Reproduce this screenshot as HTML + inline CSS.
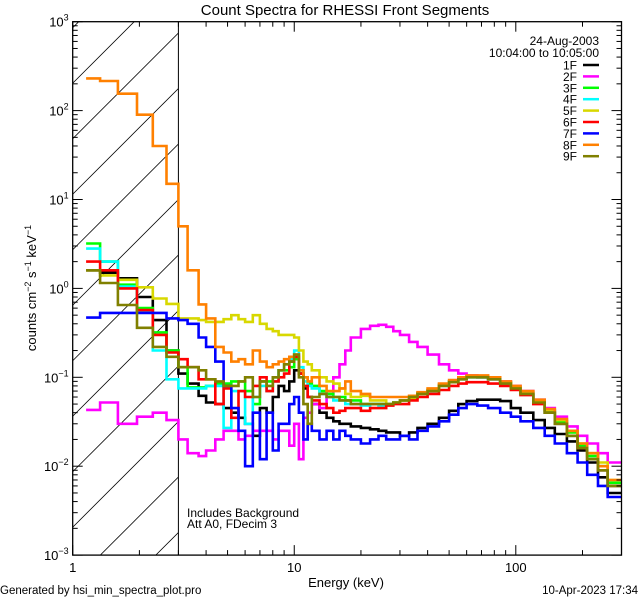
<!DOCTYPE html>
<html><head><meta charset="utf-8"><style>
html,body{margin:0;padding:0;background:#fff;width:640px;height:600px;overflow:hidden;}
svg{display:block;font-family:"Liberation Sans",sans-serif;}
</style></head><body>
<svg id="chart" width="640" height="600" viewBox="0 0 640 600" xmlns="http://www.w3.org/2000/svg">
<rect x="0" y="0" width="640" height="600" fill="#fff"/>
<defs><clipPath id="plotclip"><rect x="72.7" y="21.7" width="548.8" height="533.4"/></clipPath>
<clipPath id="hatchclip"><rect x="72.7" y="21.7" width="105.7" height="533.4"/></clipPath></defs>
<g id="hatch" clip-path="url(#hatchclip)"></g>
<line x1="178.4" y1="21.7" x2="178.4" y2="555.1" stroke="#000" stroke-width="1"/>
<g id="series" clip-path="url(#plotclip)"></g>
<rect x="72.7" y="21.7" width="548.8" height="533.4" fill="none" stroke="#000" stroke-width="1.3"/>
<g id="axes"></g>
<text x="345" y="15" font-size="15" text-anchor="middle">Count Spectra for RHESSI Front Segments</text>
<text x="346" y="587" font-size="13" text-anchor="middle">Energy (keV)</text>
<text transform="translate(36,288) rotate(-90)" font-size="13" text-anchor="middle">counts cm<tspan dy="-5" font-size="9">−2</tspan><tspan dy="5"> s</tspan><tspan dy="-5" font-size="9">−1</tspan><tspan dy="5"> keV</tspan><tspan dy="-5" font-size="9">−1</tspan></text>
<text x="599" y="45" font-size="12" text-anchor="end">24-Aug-2003</text>
<text x="599" y="57" font-size="12" text-anchor="end">10:04:00 to 10:05:00</text>
<text x="187" y="517" font-size="12">Includes Background</text>
<text x="187" y="528" font-size="12">Att A0, FDecim 3</text>
<text x="0" y="594" font-size="11.5">Generated by hsi_min_spectra_plot.pro</text>
<text x="638" y="594" font-size="11.5" text-anchor="end">10-Apr-2023 17:34</text>
<g id="legend"></g>
</svg>
<script>
const edges=[1.15,1.33,1.6,1.95,2.3,2.65,3.0,3.3,3.7,4.0,4.4,4.8,5.2,5.6,6.0,6.5,7.0,7.5,8.0,8.5,9.0,9.5,10.0,10.5,11.0,11.5,12,13,14,15,16,17,18,20,22,24,26,28,30,33,36,40,45,50,55,60,67,75,85,95,105,120,135,150,170,190,210,235,260,300];
const names=["1F","2F","3F","4F","5F","6F","7F","8F","9F"];
const colors=["#000000","#ff00ff","#00ff00","#00ffff","#d8d800","#ff0000","#0000ff","#ff8000","#808000"];
const s1F=[1.6,1.5,1.3,0.8,0.44,0.2,0.11,0.085,0.062,0.052,0.05,0.045,0.04,0.035,0.03,0.022,0.045,0.04,0.06,0.08,0.07,0.09,0.12,0.11,0.075,0.06,0.05,0.04,0.035,0.032,0.03,0.03,0.028,0.027,0.026,0.025,0.024,0.024,0.022,0.024,0.027,0.03,0.035,0.042,0.05,0.054,0.056,0.056,0.054,0.045,0.04,0.033,0.027,0.023,0.019,0.015,0.011,0.0075,0.005];
const s2F=[0.043,0.052,0.03,0.036,0.04,0.033,0.02,0.014,0.013,0.015,0.02,0.025,0.025,0.02,0.022,0.025,0.025,0.025,0.02,0.025,0.025,0.017,0.03,0.012,0.035,0.04,0.05,0.045,0.06,0.1,0.14,0.2,0.28,0.35,0.38,0.39,0.37,0.33,0.3,0.25,0.22,0.18,0.14,0.12,0.11,0.105,0.1,0.095,0.09,0.08,0.07,0.056,0.045,0.036,0.028,0.022,0.018,0.014,0.011];
const s3F=[3.2,2.0,1.1,0.6,0.32,0.2,0.13,0.077,0.077,0.08,0.085,0.085,0.09,0.09,0.07,0.05,0.09,0.09,0.1,0.12,0.12,0.13,0.16,0.12,0.1,0.085,0.08,0.07,0.065,0.06,0.06,0.055,0.055,0.05,0.05,0.05,0.05,0.052,0.055,0.06,0.066,0.072,0.082,0.09,0.097,0.102,0.1,0.097,0.087,0.077,0.067,0.054,0.042,0.032,0.024,0.017,0.013,0.01,0.0065];
const s4F=[2.8,2.0,1.05,0.55,0.2,0.095,0.075,0.075,0.075,0.08,0.08,0.027,0.07,0.07,0.03,0.06,0.08,0.07,0.09,0.12,0.14,0.16,0.2,0.13,0.09,0.08,0.075,0.065,0.06,0.055,0.055,0.05,0.05,0.048,0.05,0.048,0.05,0.052,0.055,0.06,0.065,0.07,0.08,0.088,0.095,0.1,0.1,0.095,0.085,0.075,0.065,0.052,0.04,0.03,0.022,0.016,0.012,0.009,0.006];
const s5F=[1.6,1.4,1.25,1.03,0.77,0.67,0.46,0.46,0.44,0.42,0.42,0.45,0.5,0.45,0.42,0.5,0.4,0.35,0.33,0.3,0.3,0.3,0.28,0.2,0.15,0.14,0.12,0.1,0.09,0.085,0.075,0.065,0.06,0.062,0.055,0.055,0.05,0.052,0.055,0.058,0.065,0.072,0.083,0.09,0.098,0.103,0.103,0.098,0.088,0.078,0.068,0.055,0.043,0.033,0.025,0.018,0.014,0.011,0.007];
const s6F=[2.0,1.6,1.0,0.57,0.3,0.19,0.16,0.13,0.095,0.095,0.05,0.075,0.035,0.07,0.06,0.08,0.1,0.07,0.09,0.1,0.11,0.15,0.17,0.11,0.08,0.06,0.055,0.05,0.045,0.04,0.042,0.045,0.045,0.042,0.045,0.045,0.048,0.05,0.05,0.055,0.06,0.065,0.072,0.08,0.085,0.088,0.088,0.085,0.08,0.072,0.063,0.05,0.04,0.03,0.022,0.016,0.012,0.009,0.006];
const s7F=[0.47,0.53,0.53,0.53,0.53,0.46,0.44,0.4,0.28,0.22,0.15,0.08,0.045,0.025,0.01,0.04,0.012,0.04,0.015,0.03,0.03,0.05,0.06,0.04,0.02,0.03,0.025,0.02,0.025,0.02,0.025,0.022,0.02,0.018,0.02,0.022,0.02,0.02,0.022,0.02,0.025,0.028,0.032,0.038,0.045,0.05,0.048,0.045,0.04,0.036,0.032,0.027,0.022,0.018,0.014,0.011,0.008,0.006,0.0045];
const s8F=[230,215,155,90,40,15,5,1.6,0.66,0.46,0.22,0.19,0.15,0.16,0.14,0.2,0.15,0.13,0.14,0.15,0.16,0.17,0.18,0.12,0.1,0.09,0.1,0.08,0.07,0.07,0.075,0.09,0.07,0.065,0.06,0.06,0.06,0.06,0.06,0.062,0.068,0.075,0.085,0.093,0.1,0.105,0.105,0.1,0.09,0.08,0.07,0.056,0.044,0.034,0.025,0.018,0.014,0.01,0.007];
const s9F=[1.6,1.15,0.65,0.36,0.22,0.17,0.13,0.13,0.12,0.095,0.09,0.08,0.08,0.09,0.1,0.06,0.09,0.08,0.1,0.12,0.14,0.15,0.18,0.1,0.05,0.03,0.06,0.065,0.06,0.06,0.055,0.055,0.05,0.05,0.05,0.05,0.05,0.052,0.055,0.06,0.065,0.07,0.08,0.088,0.095,0.1,0.1,0.095,0.085,0.075,0.065,0.052,0.04,0.03,0.022,0.016,0.012,0.009,0.006];
const seriesData=[s1F,s2F,s3F,s4F,s5F,s6F,s7F,s8F,s9F];
const xTickLabels=["1","10","100"];
const yTickExps=[-3,-2,-1,0,1,2,3];

const NS="http://www.w3.org/2000/svg";
const X0=72.7,X1=621.5,Y0=21.7,Y1=555.1;
const xMinLog=0,xMaxLog=Math.log10(300),yMinLog=-3,yMaxLog=3;
function xs(e){return X0+(Math.log10(e)-xMinLog)/(xMaxLog-xMinLog)*(X1-X0);}
function ys(v){return Y1-(Math.log10(v)-yMinLog)/(yMaxLog-yMinLog)*(Y1-Y0);}
function mk(tag,attrs,parent){const el=document.createElementNS(NS,tag);for(const k in attrs)el.setAttribute(k,attrs[k]);parent.appendChild(el);return el;}

const hatch=document.getElementById('hatch');
for(let c=Y0+6;c<Y1+140;c+=55.5){
  const l=mk('line',{x1:X0,y1:c,x2:X0+200,y2:c-200,stroke:'#000','stroke-width':0.8},hatch);
  
  
}

const sg=document.getElementById('series');
seriesData.forEach((vals,i)=>{
  let d='M'+xs(edges[0]).toFixed(1)+','+ys(vals[0]).toFixed(1);
  for(let k=0;k<vals.length;k++){
    if(k>0)d+='V'+ys(vals[k]).toFixed(1);
    d+='H'+xs(edges[k+1]).toFixed(1);
  }
  const p=mk('path',{d:d,fill:'none',stroke:colors[i],'stroke-width':2.6,'stroke-linejoin':'miter'},sg);
  
  
});

const ax=document.getElementById('axes');
for(let dec=0;dec<3;dec++){
  for(let m=1;m<10;m++){
    const e=m*Math.pow(10,dec); if(e>300)break;
    const x=xs(e),len=(m===1)?10:5;
    const t1=mk('line',{x1:x,y1:Y1,x2:x,y2:Y1-len,stroke:'#000','stroke-width':1},ax);
    
    
    const t2=mk('line',{x1:x,y1:Y0,x2:x,y2:Y0+len,stroke:'#000','stroke-width':1},ax);
    
    
  }
}
xTickLabels.forEach(s=>{
  const t=mk('text',{x:xs(parseFloat(s)),y:572,'font-size':13,'text-anchor':'middle'},ax);
  t.textContent=s;
  
  
});
yTickExps.forEach(p=>{
  for(let m=1;m<10;m++){
    const v=m*Math.pow(10,p); if(p===3&&m>1)break;
    const y=ys(v),len=(m===1)?10:5;
    const a=mk('line',{x1:X0,y1:y,x2:X0+len,y2:y,stroke:'#000','stroke-width':1},ax);
    
    
    const b=mk('line',{x1:X1,y1:y,x2:X1-len,y2:y,stroke:'#000','stroke-width':1},ax);
    
    
  }
  const t=mk('text',{x:X0-4,y:ys(Math.pow(10,p))+5,'font-size':13,'text-anchor':'end'},ax);
  
  
  const base=document.createElementNS(NS,'tspan');base.textContent='10';t.appendChild(base);
  const sup=document.createElementNS(NS,'tspan');sup.setAttribute('dy','-6');sup.setAttribute('font-size','9');
  sup.textContent=(p<0?'−':'')+Math.abs(p);t.appendChild(sup);
});

const lg=document.getElementById('legend');
names.forEach((n,i)=>{
  const y=65+i*11.4;
  const g=mk('g',{},lg);
  
  
  const t=mk('text',{x:577,y:y+4.5,'font-size':12,'text-anchor':'end'},g);
  t.textContent=n;
  mk('line',{x1:583,y1:y,x2:599,y2:y,stroke:colors[i],'stroke-width':2.5},g);
});
</script>
</body></html>
